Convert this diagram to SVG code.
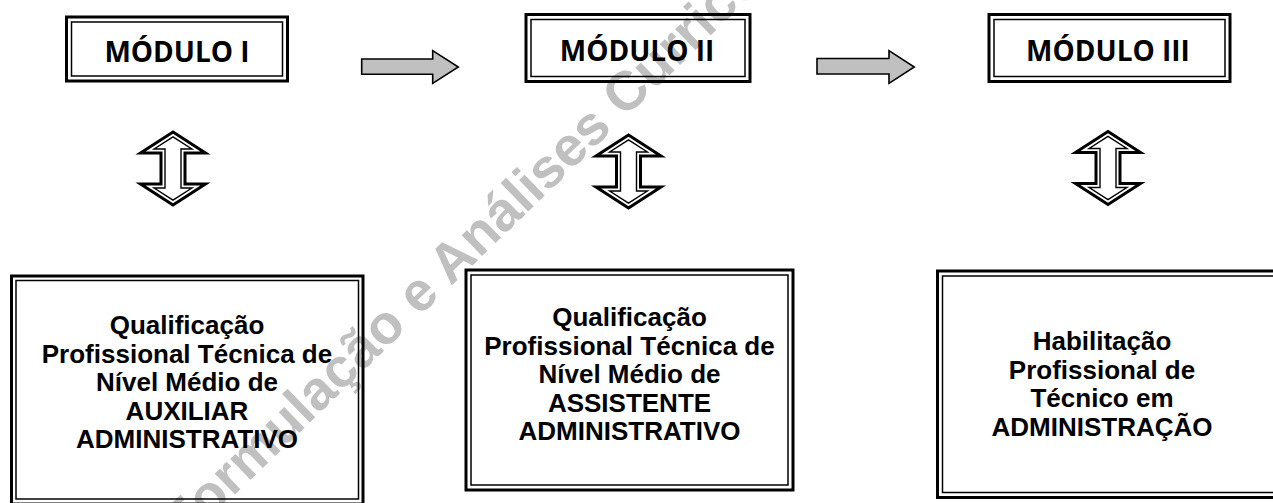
<svg xmlns="http://www.w3.org/2000/svg" width="1273" height="503" viewBox="0 0 1273 503">
<style>
.outer{fill:none;stroke:#000;stroke-width:3}
.inner{fill:none;stroke:#000;stroke-width:1.5}
.hdr{font-family:"Open Sans","Liberation Sans",sans-serif;font-weight:700;font-size:28px;fill:#000;text-anchor:middle}
.body{font-family:"Liberation Sans",Arial,sans-serif;font-weight:700;font-size:26px;fill:#000;text-anchor:middle}
.wm{font-family:"Liberation Sans",Arial,sans-serif;font-weight:700;font-size:55px;fill:#c0c0c0}
.garrow{fill:#c0c0c0;stroke:#000;stroke-width:1.6;stroke-linejoin:miter}
.dout{fill:#fff;stroke:#000;stroke-width:3;stroke-linejoin:miter}
.din{fill:none;stroke:#000;stroke-width:1.4;stroke-linejoin:miter}
</style>
<defs>
<g id="darrow">
<polygon class="dout" points="0,0 32.5,21 12,21 12,52 32.5,52 0,73 -32.5,52 -12,52 -12,21 -32.5,21"/>
<polygon class="din" points="0,4.8 18.9,17 8,17 8,56 18.9,56 0,68.2 -18.9,56 -8,56 -8,17 -18.9,17"/>
</g>
</defs>
<rect width="1273" height="503" fill="#fff"/>
<g id="watermark">
<text class="wm" x="184" y="544" transform="rotate(-44 184 544)">Formulação e Análises Curriculares</text>
</g>
<g id="node-mod1">
<rect class="outer" x="66.5" y="17" width="221" height="64"/>
<rect class="inner" x="71.5" y="22" width="211" height="54"/>
<text class="hdr" x="177" y="62">MÓDULO I</text>
</g>
<g id="node-mod2">
<rect class="outer" x="526" y="14.5" width="224" height="67"/>
<rect class="inner" x="531" y="19.5" width="214" height="57"/>
<text class="hdr" x="637" y="61">MÓDULO II</text>
</g>
<g id="node-mod3">
<rect class="outer" x="989" y="14.5" width="241" height="67"/>
<rect class="inner" x="994" y="19.5" width="231" height="57"/>
<text class="hdr" x="1108" y="61">MÓDULO III</text>
</g>
<g id="node-q1">
<rect class="outer" x="11.5" y="276" width="351.5" height="228"/>
<rect class="inner" x="16" y="280.5" width="342.5" height="218.5"/>
<text class="body" x="187" y="334">Qualificação</text>
<text class="body" x="187" y="362.6">Profissional Técnica de</text>
<text class="body" x="187" y="391.2">Nível Médio de</text>
<text class="body" x="187" y="419.8">AUXILIAR</text>
<text class="body" x="187" y="448.4">ADMINISTRATIVO</text>
</g>
<g id="node-q2">
<rect class="outer" x="466" y="270" width="327" height="220"/>
<rect class="inner" x="471" y="275" width="317" height="210"/>
<text class="body" x="629.5" y="326">Qualificação</text>
<text class="body" x="629.5" y="354.6">Profissional Técnica de</text>
<text class="body" x="629.5" y="383.2">Nível Médio de</text>
<text class="body" x="629.5" y="411.8">ASSISTENTE</text>
<text class="body" x="629.5" y="440.4">ADMINISTRATIVO</text>
</g>
<g id="node-h3">
<rect class="outer" x="937.5" y="271" width="345" height="226.5"/>
<rect class="inner" x="942.5" y="276" width="335" height="216.5"/>
<text class="body" x="1102" y="350">Habilitação</text>
<text class="body" x="1102" y="378.5">Profissional de</text>
<text class="body" x="1102" y="407">Técnico em</text>
<text class="body" x="1102" y="435.5">ADMINISTRAÇÃO</text>
</g>
<g id="connectors">
<polygon class="garrow" points="361.7,59 432.7,59 432.7,50.7 458.3,67 432.7,83.3 432.7,74.3 361.7,74.3"/>
<polygon class="garrow" points="817,58.5 889,58.5 889,50.7 914.3,67 889,83.3 889,74 817,74"/>
<use href="#darrow" transform="translate(173,132)"/>
<use href="#darrow" transform="translate(628.5,135)"/>
<use href="#darrow" transform="translate(1108,131.5)"/>
</g>
</svg>
